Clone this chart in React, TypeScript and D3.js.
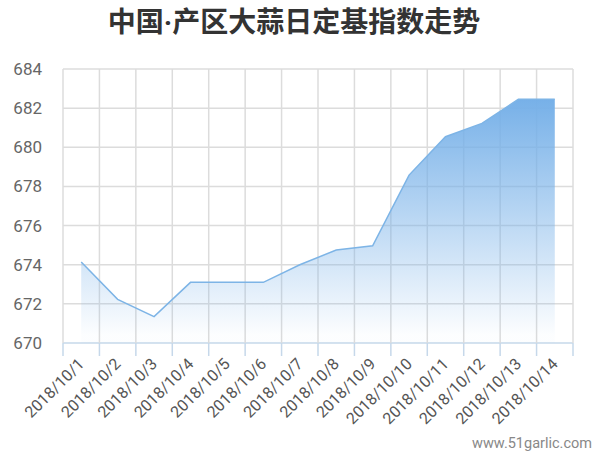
import React from "react";
import * as d3 from "d3";

const dates = [
  "2018/10/1", "2018/10/2", "2018/10/3", "2018/10/4", "2018/10/5",
  "2018/10/6", "2018/10/7", "2018/10/8", "2018/10/9", "2018/10/10",
  "2018/10/11", "2018/10/12", "2018/10/13", "2018/10/14",
];
const values = [
  674.14, 672.23, 671.35, 673.1, 673.1, 673.1, 674.0,
  674.75, 674.97, 678.58, 680.54, 681.22, 682.45, 682.45,
];
const yTicks = [670, 672, 674, 676, 678, 680, 682, 684];

const W = 600;
const H = 454;
const left = 63;
const right = 573;
const top = 69;
const bottom = 343;

export default function App() {
  const x = d3.scaleBand<string>().domain(dates).range([left, right]);
  const y = d3.scaleLinear().domain([670, 684]).range([bottom, top]);
  const cx = (d: string) => (x(d) ?? 0) + x.bandwidth() / 2;

  const line = d3
    .line<number>()
    .x((_, i) => cx(dates[i]))
    .y((v) => y(v));
  const area = d3
    .area<number>()
    .x((_, i) => cx(dates[i]))
    .y0(y(670))
    .y1((v) => y(v));

  const edges = [...dates.map((d) => x(d) ?? 0), right];

  return (
    <svg
      width={W}
      height={H}
      style={{ position: "absolute", left: 0, top: 0, background: "#fff" }}
      fontFamily="Roboto, 'Noto Sans CJK SC', sans-serif"
    >
      <defs>
        <linearGradient id="fade" gradientUnits="userSpaceOnUse"
          x1={0} y1={y(682.5)} x2={0} y2={bottom - 8}>
          <stop offset="0%" stopColor="#76b0e8" stopOpacity={1} />
          <stop offset="100%" stopColor="#76b0e8" stopOpacity={0.02} />
        </linearGradient>
      </defs>

      {/* Roboto first so the middle dot stays narrow */}
      <text
        x={W / 2 - 6}
        y={32}
        textAnchor="middle"
        fontSize={28}
        fontWeight="bold"
        fill="#333"
        fontFamily="Roboto, 'Noto Sans CJK SC', sans-serif"
      >
        中国·产区大蒜日定基指数走势
      </text>

      {/* horizontal grid */}
      {yTicks.map((t) => (
        <line key={t} x1={left} x2={right} y1={y(t)} y2={y(t)}
          stroke={t === 670 ? "#c6d8ea" : "#dcdcdc"} strokeWidth={1.5} />
      ))}
      {/* vertical grid */}
      {edges.map((e, i) => (
        <line key={i} x1={e} x2={e} y1={top} y2={bottom} stroke="#dcdcdc" strokeWidth={1.5} />
      ))}

      <path d={area(values) ?? ""} fill="url(#fade)" />
      <path d={line(values) ?? ""} fill="none" stroke="#7db4e6" strokeWidth={1.5} />

      {/* x axis ticks */}
      {edges.map((e, i) => (
        <line key={i} x1={e} x2={e} y1={bottom} y2={bottom + 13} stroke="#c6d8ea" strokeWidth={1.5} />
      ))}

      {yTicks.map((t) => (
        <text key={t} x={42} y={y(t) + 6} textAnchor="end" fontSize={17} fill="#666">
          {t}
        </text>
      ))}

      {dates.map((d) => (
        <text
          key={d}
          transform={`translate(${cx(d) + 4},${bottom + 22}) rotate(-45)`}
          textAnchor="end"
          fontSize={16}
          fill="#555"
        >
          {d}
        </text>
      ))}

      <text x={592} y={448} textAnchor="end" fontSize={14.5} fill="#888">
        www.51garlic.com
      </text>
    </svg>
  );
}
